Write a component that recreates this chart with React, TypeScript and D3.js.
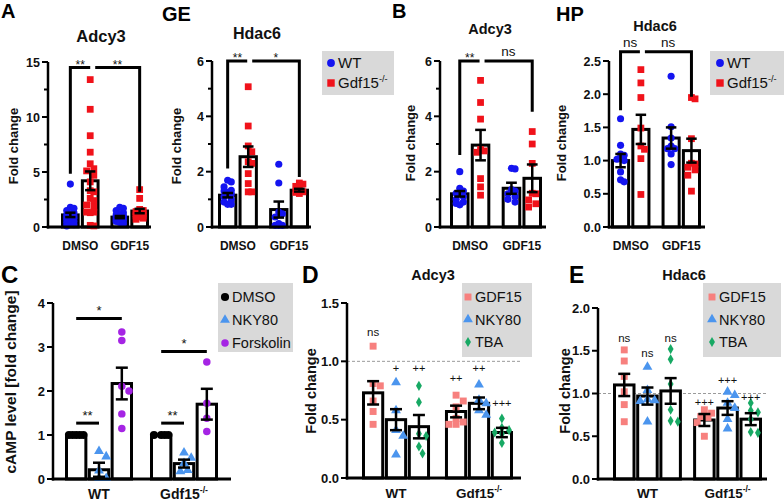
import React from "react";
import * as d3 from "d3";

const FONT = "'Liberation Sans', Arial, Helvetica, sans-serif";

const BLUE = "#1414f0";
const RED = "#f0121a";
const SALMON = "#f7807e";
const SKY = "#4b95ee";
const GREEN = "#17a964";
const PURPLE = "#a524e4";
const BOX = "#d9d9d9";

// ---- categories ----
const drugGroups = ["DMSO", "GDF15"];
const genoGroups = ["WT", "Gdf15-/-"];

// ---- A: GE Adcy3  [drug][genotype] ----
const geAdcy3Mean = [[1.1, 4.2], [0.9, 1.45]];
const geAdcy3Sem = [[0.2, 0.85], [0.1, 0.2]];
const geAdcy3Pts = [
  [
    [3.9, 1.8, 1.7, 1.5, 1.3, 1.2, 1.1, 1.0, 1.0, 0.9, 0.8, 0.8, 0.7, 0.6, 0.5, 0.4, 0.3, 0.2, 0.1],
    [13.4, 10.7, 8.3, 6.8, 5.75, 5.3, 5.1, 4.7, 4.1, 3.3, 3.2, 2.6, 2.4, 2.0, 1.8, 1.35, 1.35, 1.3, 0.15, 0.1],
  ],
  [
    [1.8, 1.7, 1.5, 1.3, 1.2, 1.1, 1.0, 1.0, 0.9, 0.9, 0.8, 0.8, 0.7, 0.6, 0.6, 0.5, 0.4, 0.3],
    [3.4, 2.6, 1.6, 1.5, 1.4, 1.3, 1.2, 1.2, 1.1, 1.0, 1.0, 0.9, 0.8, 0.7],
  ],
];

// ---- GE Hdac6 ----
const geHdac6Mean = [[1.15, 2.54], [0.63, 1.33]];
const geHdac6Sem = [[0.08, 0.37], [0.29, 0.05]];
const geHdac6Pts = [
  [
    [1.69, 1.63, 1.45, 1.33, 1.3, 1.2, 1.09, 0.99, 0.9, 0.82, 0.82, 1.25],
    [5.07, 3.65, 2.93, 2.72, 2.36, 2.3, 1.93, 1.57, 1.27, 1.27],
  ],
  [
    [2.27, 1.59, 0.54, 0.48, 0.36, 0.12, 0.06, 0.06, 0.06],
    [1.59, 1.55, 1.47, 1.43, 1.27, 1.21, 1.25],
  ],
];

// ---- B: HP Adcy3 ----
const hpAdcy3Mean = [[1.2, 2.96], [1.4, 1.76]];
const hpAdcy3Sem = [[0.1, 0.55], [0.2, 0.5]];
const hpAdcy3Pts = [
  [
    [2.0, 1.4, 1.3, 1.22, 1.1, 1.0, 0.9, 0.85, 0.8],
    [5.3, 4.5, 3.9, 2.8, 2.75, 2.7, 1.75, 1.45, 1.15],
  ],
  [
    [2.12, 2.1, 1.35, 1.3, 1.2, 1.1, 1.0, 0.9],
    [3.45, 3.0, 2.3, 1.22, 1.2, 0.98, 0.84, 0.72],
  ],
];

// ---- HP Hdac6 ----
const hpHdac6Mean = [[1.0, 1.47], [1.34, 1.15]];
const hpHdac6Sem = [[0.1, 0.22], [0.16, 0.18]];
const hpHdac6Pts = [
  [
    [1.63, 1.23, 1.1, 1.08, 1.02, 1.0, 0.83, 0.71, 0.68],
    [2.37, 2.17, 1.95, 1.49, 1.22, 1.17, 1.03, 0.49],
  ],
  [
    [2.27, 1.51, 1.34, 1.22, 1.18, 1.18, 1.1, 0.94],
    [1.95, 1.93, 1.33, 0.96, 0.95, 0.9, 0.86, 0.78, 0.54],
  ],
];

// ---- C: cAMP  [genotype][DMSO, NKY80, Forskolin] ----
const campMean = [[1.0, 0.21, 2.17], [1.0, 0.35, 1.7]];
const campSem = [[0, 0.16, 0.36], [0, 0.09, 0.35]];
const campPts = [
  [[1, 1, 1, 1, 1], [0.63, 0.51, 0.19, 0.02, 0.02], [3.34, 3.15, 2.11, 2.0, 1.48, 1.15]],
  [[1, 1, 1, 1], [0.6, 0.48, 0.36, 0.2, 0.17], [2.66, 1.72, 1.38, 1.08]],
];

// ---- D: Adcy3  [genotype][GDF15, NKY80, TBA] ----
const dMean = [[0.73, 0.5, 0.44], [0.57, 0.64, 0.39]];
const dSem = [[0.1, 0.09, 0.1], [0.05, 0.05, 0.04]];
const dPts = [
  [[1.13, 0.81, 0.79, 0.66, 0.57, 0.46], [0.82, 0.58, 0.41, 0.36, 0.2], [0.79, 0.65, 0.38, 0.36, 0.27, 0.21]],
  [[0.71, 0.66, 0.61, 0.51, 0.48, 0.46, 0.46], [0.8, 0.67, 0.64, 0.58, 0.54], [0.51, 0.43, 0.41, 0.39, 0.38, 0.3]],
];
const dMarks = [["ns", "+", "++"], ["++", "++", "+++"]];
const dMarkAt = [[1.25, 0.94, 0.94], [0.86, 0.94, 0.64]];

// ---- E: Hdac6 ----
const eMean = [[1.1, 0.97, 1.03], [0.69, 0.83, 0.7]];
const eSem = [[0.13, 0.1, 0.15], [0.07, 0.08, 0.07]];
const ePts = [
  [[1.51, 1.38, 1.2, 1.02, 0.87, 0.67], [1.31, 1.04, 0.93, 0.91, 0.92, 0.67], [1.52, 1.4, 1.11, 0.81, 0.68, 0.67]],
  [[0.81, 0.77, 0.73, 0.72, 0.66, 0.5], [1.02, 0.98, 0.89, 0.83, 0.7, 0.59], [0.89, 0.8, 0.78, 0.7, 0.55, 0.54]],
];
const eMarks = [["ns", "ns", "ns"], ["+++", "+++", "+++"]];
const eMarkAt = [[1.65, 1.47, 1.65], [0.9, 1.16, 0.96]];

type Shape = "circle" | "square" | "triangle" | "diamond";
type Series = { name: string; shape: Shape; color: string; area: number };

const genoSeries: Series[] = [
  { name: "WT", shape: "circle", color: BLUE, area: 40 },
  { name: "Gdf15-/-", shape: "square", color: RED, area: 46 },
];
const campSeries: Series[] = [
  { name: "DMSO", shape: "circle", color: "#000", area: 52 },
  { name: "NKY80", shape: "triangle", color: SKY, area: 42 },
  { name: "Forskolin", shape: "circle", color: PURPLE, area: 44 },
];
const treatSeries: Series[] = [
  { name: "GDF15", shape: "square", color: SALMON, area: 48 },
  { name: "NKY80", shape: "triangle", color: SKY, area: 42 },
  { name: "TBA", shape: "diamond", color: GREEN, area: 30 },
];

const symbolOf: Record<Shape, d3.SymbolType> = {
  circle: d3.symbolCircle,
  square: d3.symbolSquare,
  triangle: d3.symbolTriangle,
  diamond: d3.symbolDiamond,
};

function Marker({ shape, x, y, area, color }: { shape: Shape; x: number; y: number; area: number; color: string }) {
  const d = d3.symbol().type(symbolOf[shape]).size(area)() as string;
  return <path d={d} transform={`translate(${x},${y})`} fill={color} />;
}

function SupText({ x, y, text, size, weight = "normal", anchor = "start" }: any) {
  const sup = text.endsWith("-/-");
  const main = sup ? text.slice(0, -3) : text;
  return (
    <text x={x} y={y} fontSize={size} fontWeight={weight} textAnchor={anchor} fontFamily={FONT} fill="#111">
      {main}
      {sup && (
        <tspan dy={-size * 0.42} fontSize={size * 0.62}>
          -/-
        </tspan>
      )}
    </text>
  );
}

// simple beeswarm: spread points sideways when they overlap
function swarm(vals: number[], ys: (v: number) => number, size: number, maxOff: number) {
  const order = vals.map((_, i) => i).sort((a, b) => vals[b] - vals[a]);
  const placed: [number, number][] = [];
  const offs = new Array(vals.length).fill(0);
  const step = size * 0.5;
  const cands = [0];
  for (let k = 1; k * step <= maxOff; k++) cands.push(k * step, -k * step);
  for (const i of order) {
    const py = ys(vals[i]);
    let best = 0;
    let bestD = -1;
    for (const c of cands) {
      const dmin = placed.reduce((m, p) => Math.min(m, Math.hypot(p[0] - c, p[1] - py)), Infinity);
      if (dmin >= size) {
        best = c;
        break;
      }
      if (dmin > bestD) {
        bestD = dmin;
        best = c;
      }
    }
    offs[i] = best;
    placed.push([best, py]);
  }
  return offs;
}

type Cx = (g: number, s: number) => number;

function BarPanel(p: any) {
  const y = d3.scaleLinear().domain([0, p.yMax]).range([p.y0, p.yTop]);
  const xg = d3.scaleBand<string>().domain(p.groups).range(p.groupRange).paddingInner(p.padGroup).paddingOuter(0);
  const keys = p.series.map((_: any, i: number) => String(i));
  const xs = d3.scaleBand<string>().domain(keys).range([0, xg.bandwidth()]).paddingInner(p.padInner);
  const bw = xs.bandwidth();
  const cx: Cx = (g, s) => (xg(p.groups[g]) as number) + (xs(String(s)) as number) + bw / 2;
  const fmt = d3.format(p.fmt);
  const capW = Math.min(12, bw * 0.55);
  const series: Series[] = p.series;
  const size = 7.2;

  return (
    <g fontFamily={FONT}>
      {p.refLine !== undefined && (
        <line x1={p.axisX} x2={p.xEnd} y1={y(p.refLine)} y2={y(p.refLine)} stroke="#9a9a9a" strokeWidth={1} strokeDasharray="3,2" />
      )}
      {/* bars */}
      {p.groups.map((g: string, gi: number) =>
        series.map((s, si) => (
          <rect
            key={`b${gi}${si}`}
            x={cx(gi, si) - bw / 2 + 1.5}
            width={bw - 3}
            y={y(p.means[gi][si])}
            height={p.y0 - y(p.means[gi][si])}
            fill="#fff"
            stroke="#000"
            strokeWidth={3}
          />
        ))
      )}
      {/* points */}
      {p.groups.map((g: string, gi: number) =>
        series.map((s, si) => {
          const vals: number[] = p.pts[gi][si];
          const offs = swarm(vals, y, size, bw / 2 - 3);
          return vals.map((v, i) => (
            <Marker key={`p${gi}${si}${i}`} shape={s.shape} area={s.area} color={s.color} x={cx(gi, si) + offs[i]} y={y(v)} />
          ));
        })
      )}
      {/* error bars */}
      {p.groups.map((g: string, gi: number) =>
        series.map((s, si) => {
          const m = p.means[gi][si];
          const e = p.sems[gi][si];
          if (!e) return null;
          const c = cx(gi, si);
          return (
            <g key={`e${gi}${si}`} stroke="#000" strokeWidth={2.5}>
              <line x1={c} x2={c} y1={y(m - e)} y2={y(m + e)} />
              <line x1={c - capW / 2} x2={c + capW / 2} y1={y(m + e)} y2={y(m + e)} />
              <line x1={c - capW / 2} x2={c + capW / 2} y1={y(m - e)} y2={y(m - e)} />
            </g>
          );
        })
      )}
      {/* axes */}
      <line x1={p.axisX} x2={p.axisX} y1={p.y0 + 1.5} y2={p.yTop} stroke="#000" strokeWidth={2.5} />
      <line x1={p.axisX - 1.2} x2={p.xEnd} y1={p.y0} y2={p.y0} stroke="#000" strokeWidth={3} />
      {p.ticks.map((t: number) => (
        <g key={`t${t}`}>
          <line x1={p.axisX - 6} x2={p.axisX} y1={y(t)} y2={y(t)} stroke="#000" strokeWidth={2} />
          <text x={p.axisX - 8} y={y(t)} dy="0.36em" textAnchor="end" fontSize={p.tickFont} fontWeight="bold" fill="#111">
            {fmt(t)}
          </text>
        </g>
      ))}
      {(p.minor || []).map((t: number) => (
        <line key={`m${t}`} x1={p.axisX - 4} x2={p.axisX} y1={y(t)} y2={y(t)} stroke="#000" strokeWidth={2} />
      ))}
      {p.groups.map((g: string, gi: number) => (
        <SupText key={`g${gi}`} x={(xg(g) as number) + xg.bandwidth() / 2} y={p.xLabelY} text={g} size={p.xFont} weight="bold" anchor="middle" />
      ))}
      <text
        transform={`translate(${p.ylabelX},${p.ylabelY}) rotate(-90)`}
        textAnchor="middle"
        fontSize={p.ylabelFont}
        fontWeight="bold"
        fill="#111"
      >
        {p.ylabel}
      </text>
      <text x={p.titleX} y={p.titleY} textAnchor="middle" fontSize={p.titleFont} fontWeight="bold" fill="#111">
        {p.title}
      </text>
      {p.extra && p.extra(cx, y)}
    </g>
  );
}

type Bracket = { a: [number, number]; b: [number, number]; v: number; legA?: number; legB?: number; label: string; dA?: number; dB?: number };

const bracketsOf = (list: Bracket[], font: number) => (cx: Cx, y: (v: number) => number) =>
  list.map((b, i) => {
    const x1 = cx(b.a[0], b.a[1]) + (b.dA || 0);
    const x2 = cx(b.b[0], b.b[1]) + (b.dB || 0);
    const yb = y(b.v);
    const star = b.label.includes("*");
    return (
      <g key={`br${i}`}>
        <path
          d={`M${x1},${b.legA !== undefined ? y(b.legA) : yb}V${yb}H${x2}V${b.legB !== undefined ? y(b.legB) : yb}`}
          fill="none"
          stroke="#000"
          strokeWidth={3}
        />
        <text x={(x1 + x2) / 2} y={star ? yb + 1 : yb - 5} textAnchor="middle" fontSize={star ? 12 : font} fill="#111">
          {b.label}
        </text>
      </g>
    );
  });

const lineMarks = (list: { a: [number, number]; b: [number, number]; v: number; label: string }[]) => (cx: Cx, y: (v: number) => number) =>
  list.map((b, i) => (
    <g key={`lm${i}`}>
      <line x1={cx(b.a[0], b.a[1])} x2={cx(b.b[0], b.b[1])} y1={y(b.v)} y2={y(b.v)} stroke="#000" strokeWidth={3} />
      <text x={(cx(b.a[0], b.a[1]) + cx(b.b[0], b.b[1])) / 2} y={y(b.v) - 3} textAnchor="middle" fontSize={13} fill="#111">
        {b.label}
      </text>
    </g>
  ));

const barMarks = (labels: string[][], at: number[][]) => (cx: Cx, y: (v: number) => number) =>
  labels.map((row, g) =>
    row.map((t, s) => (
      <text key={`bm${g}${s}`} x={cx(g, s)} y={y(at[g][s]) + 4} textAnchor="middle" fontSize={t === "ns" ? 11.5 : 11} fill="#111">
        {t}
      </text>
    ))
  );

function Legend({ x, y, w, h, series, first, gap, mx, tx, font, scale = 1 }: any) {
  return (
    <g fontFamily={FONT}>
      <rect x={x} y={y} width={w} height={h} fill={BOX} />
      {series.map((s: Series, i: number) => (
        <g key={s.name}>
          <Marker shape={s.shape} x={mx} y={y + first + i * gap} area={s.area * scale} color={s.color} />
          <SupText x={tx} y={y + first + i * gap + font * 0.36} text={s.name} size={font} />
        </g>
      ))}
    </g>
  );
}

function Letter({ x, y, t, size }: any) {
  return (
    <text x={x} y={y} fontSize={size} fontWeight="bold" fontFamily={FONT} fill="#000">
      {t}
    </text>
  );
}

export default function App() {
  const top = { groups: drugGroups, series: genoSeries, padGroup: 0.22, padInner: 0.06, tickFont: 12.5, xFont: 12, xLabelY: 250, ylabel: "Fold change", ylabelFont: 13, y0: 227 };
  const bottom = { groups: genoGroups, padInner: 0.03, tickFont: 13, fmt: ".1f", ylabel: "Fold change", ylabelFont: 14.5, xFont: 13.5, xLabelY: 498, titleY: 280, titleFont: 14.5, series: treatSeries };
  return (
    <svg width={784} height={501} style={{ position: "absolute", left: 0, top: 0, background: "#fff" }}>
      <Letter x={1} y={18} t="A" size={20} />
      <Letter x={162} y={21} t="GE" size={20} />
      <Letter x={392} y={18} t="B" size={20} />
      <Letter x={556} y={21} t="HP" size={20} />
      <Letter x={1} y={283} t="C" size={24} />
      <Letter x={302} y={283} t="D" size={23} />
      <Letter x={569} y={283} t="E" size={23} />

      <BarPanel
        {...top}
        axisX={48} yTop={62} yMax={15} ticks={[0, 5, 10, 15]} minor={[2.5, 7.5, 12.5]} fmt="d" xEnd={151}
        groupRange={[61, 149]} means={geAdcy3Mean} sems={geAdcy3Sem} pts={geAdcy3Pts}
        ylabelX={18} ylabelY={146} title="Adcy3" titleX={101} titleY={42} titleFont={16.5}
        extra={bracketsOf(
          [
            { a: [0, 0], b: [0, 1], v: 14.5, legA: 4.85, label: "**", dB: 0 },
            { a: [0, 1], b: [1, 1], v: 14.5, legB: 3.2, label: "**", dA: 5 },
          ],
          12
        )}
      />
      <BarPanel
        {...top}
        axisX={212} yTop={61} yMax={6} ticks={[0, 2, 4, 6]} minor={[1, 3, 5]} fmt="d" xEnd={311}
        groupRange={[218, 309]} means={geHdac6Mean} sems={geHdac6Sem} pts={geHdac6Pts}
        ylabelX={181} ylabelY={146} title="Hdac6" titleX={257} titleY={39} titleFont={16}
        extra={bracketsOf(
          [
            { a: [0, 0], b: [0, 1], v: 6, legA: 2.11, label: "**", dB: -1 },
            { a: [0, 1], b: [1, 1], v: 6, legB: 1.81, label: "*", dA: 4 },
          ],
          12
        )}
      />
      <BarPanel
        {...top}
        axisX={440} yTop={61} yMax={6} ticks={[0, 2, 4, 6]} minor={[1, 3, 5]} fmt="d" xEnd={546}
        groupRange={[450, 542]} means={hpAdcy3Mean} sems={hpAdcy3Sem} pts={hpAdcy3Pts}
        ylabelX={415} ylabelY={143} title="Adcy3" titleX={490} titleY={34} titleFont={14.5}
        extra={bracketsOf(
          [
            { a: [0, 0], b: [0, 1], v: 6, legA: 2.6, label: "**", dB: -1 },
            { a: [0, 1], b: [1, 1], v: 6, legB: 4.17, label: "ns", dA: 4 },
          ],
          13.5
        )}
      />
      <BarPanel
        {...top}
        axisX={609} yTop={61} yMax={2.5} ticks={[0, 0.5, 1, 1.5, 2, 2.5]} fmt=".1f" xEnd={705}
        groupRange={[611, 701]} means={hpHdac6Mean} sems={hpHdac6Sem} pts={hpHdac6Pts}
        ylabelX={566} ylabelY={143} title="Hdac6" titleX={655} titleY={31} titleFont={14.5}
        extra={bracketsOf(
          [
            { a: [0, 0], b: [0, 1], v: 2.64, legA: 1.76, label: "ns", dB: -1 },
            { a: [0, 1], b: [1, 1], v: 2.64, legB: 1.96, label: "ns", dA: 4 },
          ],
          13.5
        )}
      />
      <Legend x={322} y={51} w={72} h={44} series={genoSeries} first={12} gap={20} mx={331} tx={338} font={15} scale={1.2} />
      <Legend x={710} y={51} w={74} h={44} series={genoSeries} first={12} gap={20} mx={720} tx={727} font={15} scale={1.2} />

      <BarPanel
        groups={genoGroups} series={campSeries} padGroup={0.2} padInner={0.02} tickFont={13} xFont={14} xLabelY={499}
        axisX={53} y0={479} yTop={303} yMax={4} ticks={[0, 1, 2, 3, 4]} fmt="d" xEnd={231}
        groupRange={[65, 218]} means={campMean} sems={campSem} pts={campPts}
        ylabel="cAMP level [fold change]" ylabelFont={15.5} ylabelX={16} ylabelY={382}
        extra={lineMarks([
          { a: [0, 0], b: [0, 1], v: 1.27, label: "**" },
          { a: [1, 0], b: [1, 1], v: 1.27, label: "**" },
          { a: [0, 0], b: [0, 2], v: 3.65, label: "*" },
          { a: [1, 0], b: [1, 2], v: 2.9, label: "*" },
        ])}
      />
      <Legend x={218} y={283} w={75} h={69} series={campSeries} first={14} gap={23} mx={225} tx={232} font={14.5} />

      <BarPanel
        {...bottom}
        axisX={347} y0={478} yTop={303} yMax={1.5} ticks={[0, 0.5, 1, 1.5]} xEnd={521}
        groupRange={[362, 513]} padGroup={0.18} means={dMean} sems={dSem} pts={dPts} refLine={1}
        ylabelX={316} ylabelY={391} title="Adcy3" titleX={433}
        extra={barMarks(dMarks, dMarkAt)}
      />
      <Legend x={462} y={283} w={70} h={74} series={treatSeries} first={14} gap={22.5} mx={468} tx={475} font={14.5} />

      <BarPanel
        {...bottom}
        axisX={598} y0={479} yTop={308} yMax={2} ticks={[0, 0.5, 1, 1.5, 2]} xEnd={767}
        groupRange={[613, 762]} padGroup={0.14} means={eMean} sems={eSem} pts={ePts} refLine={1}
        ylabelX={570} ylabelY={391} title="Hdac6" titleX={684}
        extra={barMarks(eMarks, eMarkAt)}
      />
      <Legend x={703} y={283} w={78} h={74} series={treatSeries} first={14} gap={22.5} mx={712} tx={719} font={14.5} />
    </svg>
  );
}
